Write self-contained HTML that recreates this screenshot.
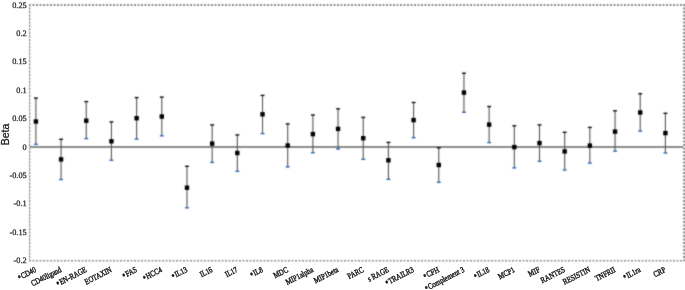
<!DOCTYPE html>
<html><head><meta charset="utf-8"><style>
html,body{margin:0;padding:0;background:#fff;}
body{width:685px;height:290px;overflow:hidden;}
svg{display:block;}
.t{font-family:"Liberation Serif",serif;text-rendering:geometricPrecision;}
.s{font-family:"Liberation Sans",sans-serif;}
.g{filter:grayscale(1);}
</style></head><body>
<svg width="685" height="290" viewBox="0 0 685 290">
<defs><filter id="bl" x="0" y="0" width="685" height="290" filterUnits="userSpaceOnUse" color-interpolation-filters="sRGB"><feConvolveMatrix order="3" kernelMatrix="1 2 1 2 12 2 1 2 1" divisor="24" edgeMode="duplicate"/></filter></defs>
<g filter="url(#bl)">
<rect width="685" height="290" fill="#fff"/>
<line x1="29" y1="5" x2="684" y2="5" stroke="#8e8e8e" stroke-width="2" stroke-dasharray="2 1.5"/>
<line x1="29.6" y1="4" x2="29.6" y2="261" stroke="#d4d4d4" stroke-width="1.2"/>
<line x1="29.6" y1="4" x2="29.6" y2="261" stroke="#8e8e8e" stroke-width="1.2" stroke-dasharray="2 1.5"/>
<line x1="684" y1="4" x2="684" y2="261" stroke="#8e8e8e" stroke-width="2" stroke-dasharray="2 1.5"/>
<line x1="29" y1="260.7" x2="684" y2="260.7" stroke="#8e8e8e" stroke-width="1.6" stroke-dasharray="2 1.5"/>
<line x1="30" y1="146.9" x2="683" y2="146.9" stroke="#8a8a8a" stroke-width="2.0"/>
<line x1="35.90" y1="98.10" x2="35.90" y2="144.30" stroke="#555" stroke-width="1.1"/>
<rect x="33.95" y="97.40" width="3.9" height="1.4" fill="#111"/>
<rect x="33.95" y="143.60" width="3.9" height="1.4" fill="#2f66bc"/>
<rect x="33.70" y="119.30" width="4.4" height="4.4" fill="#000"/>
<line x1="61.08" y1="139.30" x2="61.08" y2="179.50" stroke="#555" stroke-width="1.1"/>
<rect x="59.13" y="138.60" width="3.9" height="1.4" fill="#111"/>
<rect x="59.13" y="178.80" width="3.9" height="1.4" fill="#2f66bc"/>
<rect x="58.88" y="157.20" width="4.4" height="4.4" fill="#000"/>
<line x1="86.26" y1="101.60" x2="86.26" y2="138.60" stroke="#555" stroke-width="1.1"/>
<rect x="84.31" y="100.90" width="3.9" height="1.4" fill="#111"/>
<rect x="84.31" y="137.90" width="3.9" height="1.4" fill="#2f66bc"/>
<rect x="84.06" y="118.50" width="4.4" height="4.4" fill="#000"/>
<line x1="111.44" y1="121.90" x2="111.44" y2="160.20" stroke="#555" stroke-width="1.1"/>
<rect x="109.49" y="121.20" width="3.9" height="1.4" fill="#111"/>
<rect x="109.49" y="159.50" width="3.9" height="1.4" fill="#2f66bc"/>
<rect x="109.24" y="139.10" width="4.4" height="4.4" fill="#000"/>
<line x1="136.62" y1="97.60" x2="136.62" y2="139.10" stroke="#555" stroke-width="1.1"/>
<rect x="134.67" y="96.90" width="3.9" height="1.4" fill="#111"/>
<rect x="134.67" y="138.40" width="3.9" height="1.4" fill="#2f66bc"/>
<rect x="134.42" y="116.00" width="4.4" height="4.4" fill="#000"/>
<line x1="161.80" y1="97.10" x2="161.80" y2="135.80" stroke="#555" stroke-width="1.1"/>
<rect x="159.85" y="96.40" width="3.9" height="1.4" fill="#111"/>
<rect x="159.85" y="135.10" width="3.9" height="1.4" fill="#2f66bc"/>
<rect x="159.60" y="114.30" width="4.4" height="4.4" fill="#000"/>
<line x1="186.98" y1="166.30" x2="186.98" y2="207.80" stroke="#555" stroke-width="1.1"/>
<rect x="185.03" y="165.60" width="3.9" height="1.4" fill="#111"/>
<rect x="185.03" y="207.10" width="3.9" height="1.4" fill="#2f66bc"/>
<rect x="184.78" y="185.50" width="4.4" height="4.4" fill="#000"/>
<line x1="212.16" y1="124.90" x2="212.16" y2="162.40" stroke="#555" stroke-width="1.1"/>
<rect x="210.21" y="124.20" width="3.9" height="1.4" fill="#111"/>
<rect x="210.21" y="161.70" width="3.9" height="1.4" fill="#2f66bc"/>
<rect x="209.96" y="141.40" width="4.4" height="4.4" fill="#000"/>
<line x1="237.34" y1="134.90" x2="237.34" y2="171.30" stroke="#555" stroke-width="1.1"/>
<rect x="235.39" y="134.20" width="3.9" height="1.4" fill="#111"/>
<rect x="235.39" y="170.60" width="3.9" height="1.4" fill="#2f66bc"/>
<rect x="235.14" y="150.80" width="4.4" height="4.4" fill="#000"/>
<line x1="262.52" y1="95.40" x2="262.52" y2="133.60" stroke="#555" stroke-width="1.1"/>
<rect x="260.57" y="94.70" width="3.9" height="1.4" fill="#111"/>
<rect x="260.57" y="132.90" width="3.9" height="1.4" fill="#2f66bc"/>
<rect x="260.32" y="112.10" width="4.4" height="4.4" fill="#000"/>
<line x1="287.70" y1="123.90" x2="287.70" y2="166.90" stroke="#555" stroke-width="1.1"/>
<rect x="285.75" y="123.20" width="3.9" height="1.4" fill="#111"/>
<rect x="285.75" y="166.20" width="3.9" height="1.4" fill="#2f66bc"/>
<rect x="285.50" y="143.30" width="4.4" height="4.4" fill="#000"/>
<line x1="312.88" y1="115.00" x2="312.88" y2="152.70" stroke="#555" stroke-width="1.1"/>
<rect x="310.93" y="114.30" width="3.9" height="1.4" fill="#111"/>
<rect x="310.93" y="152.00" width="3.9" height="1.4" fill="#2f66bc"/>
<rect x="310.68" y="131.90" width="4.4" height="4.4" fill="#000"/>
<line x1="338.06" y1="108.80" x2="338.06" y2="149.00" stroke="#555" stroke-width="1.1"/>
<rect x="336.11" y="108.10" width="3.9" height="1.4" fill="#111"/>
<rect x="336.11" y="148.30" width="3.9" height="1.4" fill="#2f66bc"/>
<rect x="335.86" y="126.70" width="4.4" height="4.4" fill="#000"/>
<line x1="363.24" y1="117.40" x2="363.24" y2="159.30" stroke="#555" stroke-width="1.1"/>
<rect x="361.29" y="116.70" width="3.9" height="1.4" fill="#111"/>
<rect x="361.29" y="158.60" width="3.9" height="1.4" fill="#2f66bc"/>
<rect x="361.04" y="136.00" width="4.4" height="4.4" fill="#000"/>
<line x1="388.42" y1="142.40" x2="388.42" y2="179.30" stroke="#555" stroke-width="1.1"/>
<rect x="386.47" y="141.70" width="3.9" height="1.4" fill="#111"/>
<rect x="386.47" y="178.60" width="3.9" height="1.4" fill="#2f66bc"/>
<rect x="386.22" y="158.10" width="4.4" height="4.4" fill="#000"/>
<line x1="413.60" y1="102.50" x2="413.60" y2="137.70" stroke="#555" stroke-width="1.1"/>
<rect x="411.65" y="101.80" width="3.9" height="1.4" fill="#111"/>
<rect x="411.65" y="137.00" width="3.9" height="1.4" fill="#2f66bc"/>
<rect x="411.40" y="117.90" width="4.4" height="4.4" fill="#000"/>
<line x1="438.78" y1="147.80" x2="438.78" y2="182.30" stroke="#555" stroke-width="1.1"/>
<rect x="436.83" y="147.10" width="3.9" height="1.4" fill="#111"/>
<rect x="436.83" y="181.60" width="3.9" height="1.4" fill="#2f66bc"/>
<rect x="436.58" y="162.80" width="4.4" height="4.4" fill="#000"/>
<line x1="463.96" y1="73.20" x2="463.96" y2="112.20" stroke="#555" stroke-width="1.1"/>
<rect x="462.01" y="72.50" width="3.9" height="1.4" fill="#111"/>
<rect x="462.01" y="111.50" width="3.9" height="1.4" fill="#2f66bc"/>
<rect x="461.76" y="90.40" width="4.4" height="4.4" fill="#000"/>
<line x1="489.14" y1="106.50" x2="489.14" y2="142.60" stroke="#555" stroke-width="1.1"/>
<rect x="487.19" y="105.80" width="3.9" height="1.4" fill="#111"/>
<rect x="487.19" y="141.90" width="3.9" height="1.4" fill="#2f66bc"/>
<rect x="486.94" y="122.40" width="4.4" height="4.4" fill="#000"/>
<line x1="514.32" y1="125.80" x2="514.32" y2="167.90" stroke="#555" stroke-width="1.1"/>
<rect x="512.37" y="125.10" width="3.9" height="1.4" fill="#111"/>
<rect x="512.37" y="167.20" width="3.9" height="1.4" fill="#2f66bc"/>
<rect x="512.12" y="144.90" width="4.4" height="4.4" fill="#000"/>
<line x1="539.50" y1="124.90" x2="539.50" y2="161.30" stroke="#555" stroke-width="1.1"/>
<rect x="537.55" y="124.20" width="3.9" height="1.4" fill="#111"/>
<rect x="537.55" y="160.60" width="3.9" height="1.4" fill="#2f66bc"/>
<rect x="537.30" y="140.90" width="4.4" height="4.4" fill="#000"/>
<line x1="564.68" y1="132.30" x2="564.68" y2="170.00" stroke="#555" stroke-width="1.1"/>
<rect x="562.73" y="131.60" width="3.9" height="1.4" fill="#111"/>
<rect x="562.73" y="169.30" width="3.9" height="1.4" fill="#2f66bc"/>
<rect x="562.48" y="149.20" width="4.4" height="4.4" fill="#000"/>
<line x1="589.86" y1="127.40" x2="589.86" y2="163.10" stroke="#555" stroke-width="1.1"/>
<rect x="587.91" y="126.70" width="3.9" height="1.4" fill="#111"/>
<rect x="587.91" y="162.40" width="3.9" height="1.4" fill="#2f66bc"/>
<rect x="587.66" y="143.40" width="4.4" height="4.4" fill="#000"/>
<line x1="615.04" y1="110.80" x2="615.04" y2="151.10" stroke="#555" stroke-width="1.1"/>
<rect x="613.09" y="110.10" width="3.9" height="1.4" fill="#111"/>
<rect x="613.09" y="150.40" width="3.9" height="1.4" fill="#2f66bc"/>
<rect x="612.84" y="129.40" width="4.4" height="4.4" fill="#000"/>
<line x1="640.22" y1="93.70" x2="640.22" y2="131.10" stroke="#555" stroke-width="1.1"/>
<rect x="638.27" y="93.00" width="3.9" height="1.4" fill="#111"/>
<rect x="638.27" y="130.40" width="3.9" height="1.4" fill="#2f66bc"/>
<rect x="638.02" y="110.30" width="4.4" height="4.4" fill="#000"/>
<line x1="665.40" y1="113.30" x2="665.40" y2="152.90" stroke="#555" stroke-width="1.1"/>
<rect x="663.45" y="112.60" width="3.9" height="1.4" fill="#111"/>
<rect x="663.45" y="152.20" width="3.9" height="1.4" fill="#2f66bc"/>
<rect x="663.20" y="130.90" width="4.4" height="4.4" fill="#000"/>
</g>
<g class="g">
<text class="t" fill="#1e1e1e" stroke="#1e1e1e" stroke-width="0.25" font-weight="normal" font-size="8.3" text-anchor="end" transform="translate(26.7,7.60) scale(1.0,1)">0.25</text>
<text class="t" fill="#1e1e1e" stroke="#1e1e1e" stroke-width="0.25" font-weight="normal" font-size="8.3" text-anchor="end" transform="translate(26.7,36.00) scale(1.0,1)">0.2</text>
<text class="t" fill="#1e1e1e" stroke="#1e1e1e" stroke-width="0.25" font-weight="normal" font-size="8.3" text-anchor="end" transform="translate(26.7,64.40) scale(1.0,1)">0.15</text>
<text class="t" fill="#1e1e1e" stroke="#1e1e1e" stroke-width="0.25" font-weight="normal" font-size="8.3" text-anchor="end" transform="translate(26.7,92.80) scale(1.0,1)">0.1</text>
<text class="t" fill="#1e1e1e" stroke="#1e1e1e" stroke-width="0.25" font-weight="normal" font-size="8.3" text-anchor="end" transform="translate(26.7,121.20) scale(1.0,1)">0.05</text>
<text class="t" fill="#1e1e1e" stroke="#1e1e1e" stroke-width="0.25" font-weight="normal" font-size="8.3" text-anchor="end" transform="translate(26.7,149.60) scale(1.0,1)">0</text>
<text class="t" fill="#1e1e1e" stroke="#1e1e1e" stroke-width="0.25" font-weight="normal" font-size="8.3" text-anchor="end" transform="translate(26.7,178.00) scale(1.0,1)">-0.05</text>
<text class="t" fill="#1e1e1e" stroke="#1e1e1e" stroke-width="0.25" font-weight="normal" font-size="8.3" text-anchor="end" transform="translate(26.7,206.40) scale(1.0,1)">-0.1</text>
<text class="t" fill="#1e1e1e" stroke="#1e1e1e" stroke-width="0.25" font-weight="normal" font-size="8.3" text-anchor="end" transform="translate(26.7,234.80) scale(1.0,1)">-0.15</text>
<text class="t" fill="#1e1e1e" stroke="#1e1e1e" stroke-width="0.25" font-weight="normal" font-size="8.3" text-anchor="end" transform="translate(26.7,263.20) scale(1.0,1)">-0.2</text>
<text class="s" fill="#1a1a1a" stroke="#1a1a1a" stroke-width="0.3" font-size="10.5" text-anchor="middle" transform="translate(8.6,134.5) rotate(-90)">Beta</text>
<text class="t" fill="#1a1a1a" font-weight="normal" font-size="8.2" text-anchor="end" stroke="#1a1a1a" stroke-width="0.42" transform="translate(34.40,266.6) rotate(-27) translate(0,5.41) scale(0.82,1)"><tspan font-size="11.07" dy="0.50">&#8226;</tspan><tspan dx="0.60" dy="-0.50">CD40</tspan></text>
<text class="t" fill="#1a1a1a" font-weight="normal" font-size="8.2" text-anchor="end" stroke="#1a1a1a" stroke-width="0.42" transform="translate(59.58,266.6) rotate(-27) translate(0,5.41) scale(0.82,1)">CD40ligand</text>
<text class="t" fill="#1a1a1a" font-weight="normal" font-size="8.2" text-anchor="end" stroke="#1a1a1a" stroke-width="0.42" transform="translate(84.76,266.6) rotate(-27) translate(0,5.41) scale(0.82,1)"><tspan font-size="11.07" dy="0.50">&#8226;</tspan><tspan dx="0.60" dy="-0.50">EN-RAGE</tspan></text>
<text class="t" fill="#1a1a1a" font-weight="normal" font-size="8.2" text-anchor="end" stroke="#1a1a1a" stroke-width="0.42" transform="translate(109.94,266.6) rotate(-27) translate(0,5.41) scale(0.82,1)">EOTAXIN</text>
<text class="t" fill="#1a1a1a" font-weight="normal" font-size="8.2" text-anchor="end" stroke="#1a1a1a" stroke-width="0.42" transform="translate(135.12,266.6) rotate(-27) translate(0,5.41) scale(0.82,1)"><tspan font-size="11.07" dy="0.50">&#8226;</tspan><tspan dx="0.60" dy="-0.50">FAS</tspan></text>
<text class="t" fill="#1a1a1a" font-weight="normal" font-size="8.2" text-anchor="end" stroke="#1a1a1a" stroke-width="0.42" transform="translate(160.30,266.6) rotate(-27) translate(0,5.41) scale(0.82,1)"><tspan font-size="11.07" dy="0.50">&#8226;</tspan><tspan dx="0.60" dy="-0.50">HCC4</tspan></text>
<text class="t" fill="#1a1a1a" font-weight="normal" font-size="8.2" text-anchor="end" stroke="#1a1a1a" stroke-width="0.42" transform="translate(185.48,266.6) rotate(-27) translate(0,5.41) scale(0.82,1)"><tspan font-size="11.07" dy="0.50">&#8226;</tspan><tspan dx="0.60" dy="-0.50">IL13</tspan></text>
<text class="t" fill="#1a1a1a" font-weight="normal" font-size="8.2" text-anchor="end" stroke="#1a1a1a" stroke-width="0.42" transform="translate(210.66,266.6) rotate(-27) translate(0,5.41) scale(0.82,1)">IL16</text>
<text class="t" fill="#1a1a1a" font-weight="normal" font-size="8.2" text-anchor="end" stroke="#1a1a1a" stroke-width="0.42" transform="translate(235.84,266.6) rotate(-27) translate(0,5.41) scale(0.82,1)">IL17</text>
<text class="t" fill="#1a1a1a" font-weight="normal" font-size="8.2" text-anchor="end" stroke="#1a1a1a" stroke-width="0.42" transform="translate(261.02,266.6) rotate(-27) translate(0,5.41) scale(0.82,1)"><tspan font-size="11.07" dy="0.50">&#8226;</tspan><tspan dx="0.60" dy="-0.50">IL8</tspan></text>
<text class="t" fill="#1a1a1a" font-weight="normal" font-size="8.2" text-anchor="end" stroke="#1a1a1a" stroke-width="0.42" transform="translate(286.20,266.6) rotate(-27) translate(0,5.41) scale(0.82,1)">MDC</text>
<text class="t" fill="#1a1a1a" font-weight="normal" font-size="8.2" text-anchor="end" stroke="#1a1a1a" stroke-width="0.42" transform="translate(311.38,266.6) rotate(-27) translate(0,5.41) scale(0.82,1)">MIP1alpha</text>
<text class="t" fill="#1a1a1a" font-weight="normal" font-size="8.2" text-anchor="end" stroke="#1a1a1a" stroke-width="0.42" transform="translate(336.56,266.6) rotate(-27) translate(0,5.41) scale(0.82,1)">MIP1beta</text>
<text class="t" fill="#1a1a1a" font-weight="normal" font-size="8.2" text-anchor="end" stroke="#1a1a1a" stroke-width="0.42" transform="translate(361.74,266.6) rotate(-27) translate(0,5.41) scale(0.82,1)">PARC</text>
<text class="t" fill="#1a1a1a" font-weight="normal" font-size="8.2" text-anchor="end" stroke="#1a1a1a" stroke-width="0.42" transform="translate(386.92,266.6) rotate(-27) translate(0,5.41) scale(0.82,1)">s RAGE</text>
<text class="t" fill="#1a1a1a" font-weight="normal" font-size="8.2" text-anchor="end" stroke="#1a1a1a" stroke-width="0.42" transform="translate(412.10,266.6) rotate(-27) translate(0,5.41) scale(0.82,1)"><tspan font-size="11.07" dy="0.50">&#8226;</tspan><tspan dx="0.60" dy="-0.50">TRAILR3</tspan></text>
<text class="t" fill="#1a1a1a" font-weight="normal" font-size="8.2" text-anchor="end" stroke="#1a1a1a" stroke-width="0.42" transform="translate(437.28,266.6) rotate(-27) translate(0,5.41) scale(0.82,1)"><tspan font-size="11.07" dy="0.50">&#8226;</tspan><tspan dx="0.60" dy="-0.50">CFH</tspan></text>
<text class="t" fill="#1a1a1a" font-weight="normal" font-size="8.2" text-anchor="end" stroke="#1a1a1a" stroke-width="0.42" transform="translate(462.46,266.6) rotate(-27) translate(0,5.41) scale(0.82,1)"><tspan font-size="11.07" dy="0.50">&#8226;</tspan><tspan dx="0.60" dy="-0.50">Complement 3</tspan></text>
<text class="t" fill="#1a1a1a" font-weight="normal" font-size="8.2" text-anchor="end" stroke="#1a1a1a" stroke-width="0.42" transform="translate(487.64,266.6) rotate(-27) translate(0,5.41) scale(0.82,1)"><tspan font-size="11.07" dy="0.50">&#8226;</tspan><tspan dx="0.60" dy="-0.50">IL18</tspan></text>
<text class="t" fill="#1a1a1a" font-weight="normal" font-size="8.2" text-anchor="end" stroke="#1a1a1a" stroke-width="0.42" transform="translate(512.82,266.6) rotate(-27) translate(0,5.41) scale(0.82,1)">MCP1</text>
<text class="t" fill="#1a1a1a" font-weight="normal" font-size="8.2" text-anchor="end" stroke="#1a1a1a" stroke-width="0.42" transform="translate(538.00,266.6) rotate(-27) translate(0,5.41) scale(0.82,1)">MIF</text>
<text class="t" fill="#1a1a1a" font-weight="normal" font-size="8.2" text-anchor="end" stroke="#1a1a1a" stroke-width="0.42" transform="translate(563.18,266.6) rotate(-27) translate(0,5.41) scale(0.82,1)">RANTES</text>
<text class="t" fill="#1a1a1a" font-weight="normal" font-size="8.2" text-anchor="end" stroke="#1a1a1a" stroke-width="0.42" transform="translate(588.36,266.6) rotate(-27) translate(0,5.41) scale(0.82,1)">RESISTIN</text>
<text class="t" fill="#1a1a1a" font-weight="normal" font-size="8.2" text-anchor="end" stroke="#1a1a1a" stroke-width="0.42" transform="translate(613.54,266.6) rotate(-27) translate(0,5.41) scale(0.82,1)">TNFRII</text>
<text class="t" fill="#1a1a1a" font-weight="normal" font-size="8.2" text-anchor="end" stroke="#1a1a1a" stroke-width="0.42" transform="translate(638.72,266.6) rotate(-27) translate(0,5.41) scale(0.82,1)"><tspan font-size="11.07" dy="0.50">&#8226;</tspan><tspan dx="0.60" dy="-0.50">IL1ra</tspan></text>
<text class="t" fill="#1a1a1a" font-weight="normal" font-size="8.2" text-anchor="end" stroke="#1a1a1a" stroke-width="0.42" transform="translate(663.90,266.6) rotate(-27) translate(0,5.41) scale(0.82,1)">CRP</text>
</g>
</svg>
</body></html>
